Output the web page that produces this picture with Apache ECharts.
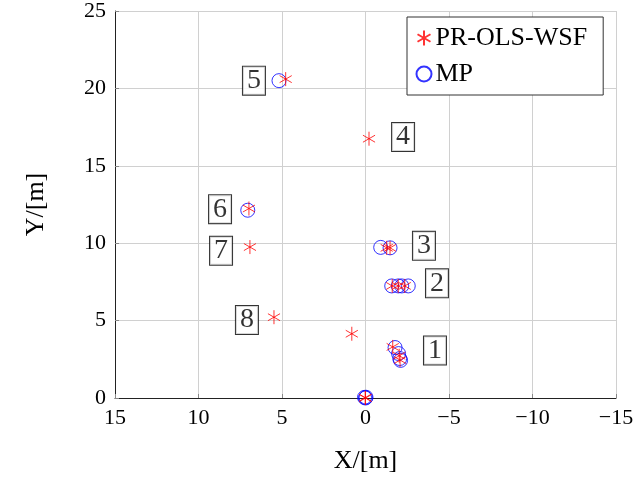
<!DOCTYPE html>
<html>
<head>
<meta charset="utf-8">
<script src="https://cdn.jsdelivr.net/npm/echarts@6/dist/echarts.min.js"></script>
<style>
html,body{margin:0;padding:0;background:#fff;}
#chart{width:637px;height:479px;}
</style>
</head>
<body>
<div id="chart"></div>
<script>
// PR-OLS-WSF estimates (red asterisks)
var starX = [0, 0.02, -1.63, -2.02, -2.07, 0.82, -1.27, -1.47, -1.6, -1.96, -2.35, -0.21, 4.78, 6.98, 6.92, 5.48];
var starY = [0, 0.02, 3.30, 2.73, 2.45, 4.15, 9.70, 9.70, 7.24, 7.24, 7.24, 16.75, 20.6, 12.24, 9.75, 5.22];
// MP estimates (blue circles)
var mpX = [0, 0.06, -0.06, 0.03, -0.03, -1.77, -1.98, -2.05, -2.1, -0.91, -1.47, -1.57, -1.96, -2.17, -2.56, 5.18, 7.05];
var mpY = [0, 0.04, -0.04, -0.05, 0.05, 3.26, 2.87, 2.55, 2.43, 9.73, 9.70, 7.24, 7.24, 7.24, 7.24, 20.5, 12.13];
// boxed annotation labels
var labelText = ['1', '2', '3', '4', '5', '6', '7', '8'];
var labelX = [-4.16, -4.28, -3.5, -2.25, 6.68, 8.71, 8.65, 7.1];
var labelY = [3.07, 7.41, 9.83, 16.86, 20.5, 12.2, 9.51, 5.04];
// axes
var xTicks = [15, 10, 5, 0, -5, -10, -15];
var yTicks = [0, 5, 10, 15, 20, 25];

function zip(a, b) { return a.map(function (v, i) { return [v, b[i]]; }); }
function fmt(v) { return v < 0 ? '\u2212' + Math.abs(v) : String(v); }

var FONT = 'Liberation Serif';
var starPath = 'path://M0,-1L0,1M-0.866,-0.5L0.866,0.5M-0.866,0.5L0.866,-0.5';

var chart = echarts.init(document.getElementById('chart'), null, {renderer: 'canvas'});
chart.setOption({
  animation: false,
  backgroundColor: '#fff',
  textStyle: {fontFamily: FONT},
  grid: {left: 115, right: 21, top: 8, bottom: 79, show: false},
  xAxis: {
    type: 'value', min: -15, max: 15, interval: 5, inverse: true,
    name: 'X/[m]', nameLocation: 'middle', nameGap: 50,
    nameTextStyle: {fontFamily: FONT, fontSize: 26, color: '#000'},
    axisLine: {show: true, lineStyle: {color: '#222', width: 1}},
    axisTick: {show: true, inside: true, length: 4, lineStyle: {color: '#888'}},
    axisLabel: {fontFamily: FONT, fontSize: 22, color: '#000', margin: 9, formatter: fmt},
    splitLine: {show: true, lineStyle: {color: '#d0d0d0', width: 1}}
  },
  yAxis: {
    type: 'value', min: 0, max: 25, interval: 5,
    name: 'Y/[m]', nameLocation: 'middle', nameGap: 66, nameRotate: 90,
    nameTextStyle: {fontFamily: FONT, fontSize: 26, color: '#000'},
    axisLine: {show: true, onZero: false, lineStyle: {color: '#222', width: 1}},
    axisTick: {show: true, inside: true, length: 4, lineStyle: {color: '#888'}},
    axisLabel: {fontFamily: FONT, fontSize: 22, color: '#000', margin: 9, formatter: fmt},
    splitLine: {show: true, lineStyle: {color: '#d0d0d0', width: 1}}
  },
  legend: {
    orient: 'vertical', left: 407, top: 17,
    data: ['PR-OLS-WSF', 'MP'],
    backgroundColor: '#fff', borderColor: '#333', borderWidth: 1,
    padding: [8, 16, 8, 7], itemGap: 10, itemWidth: 15, itemHeight: 15,
    textStyle: {fontFamily: FONT, fontSize: 26, color: '#000', padding: [0, 0, 0, -1]}
  },
  series: [
    {
      name: 'MP', type: 'scatter', data: zip(mpX, mpY), z: 2,
      symbol: 'circle', symbolSize: 14,
      itemStyle: {color: 'none', borderColor: '#0000ff', borderWidth: 1}
    },
    {
      name: 'PR-OLS-WSF', type: 'scatter', data: zip(starX, starY), z: 3,
      symbol: starPath, symbolSize: 14, symbolKeepAspect: true,
      itemStyle: {color: 'none', borderColor: '#ff0000', borderWidth: 1}
    },
    {
      name: 'labels', type: 'scatter', data: zip(labelX, labelY).map(function (p, i) {
        return {value: p, label: {formatter: labelText[i]}};
      }), z: 4, symbolSize: 0, silent: true,
      label: {
        show: true, position: 'inside', fontFamily: FONT, fontSize: 28, color: '#000',
        backgroundColor: '#fff', borderColor: '#000', borderWidth: 1,
        padding: [1, 4, 0, 4], lineHeight: 27
      }
    }
  ]
});
</script>
</body>
</html>
